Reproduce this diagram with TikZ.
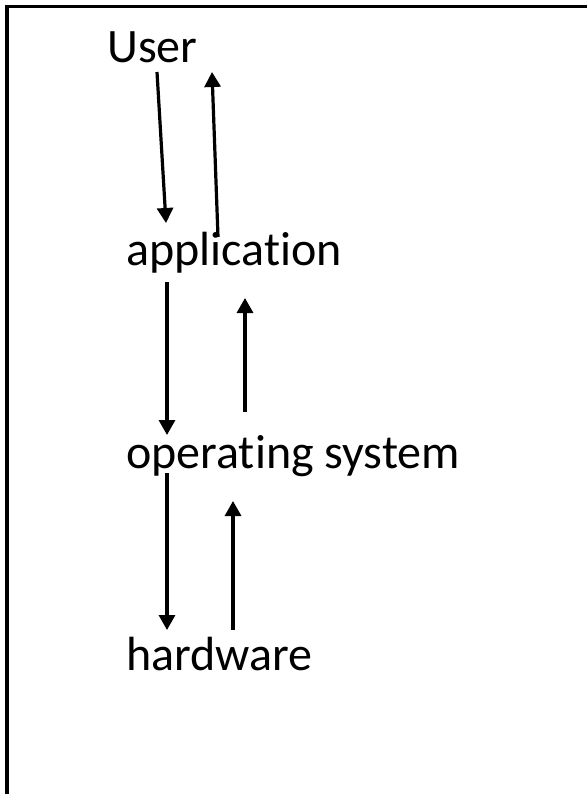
\documentclass[tikz,border=0pt]{standalone}
\usepackage{fontspec}
\setmainfont{Carlito}[Ligatures={NoCommon}]
\usetikzlibrary{arrows.meta}

\begin{document}
\begin{tikzpicture}[
    x=1pt, y=-1pt,
    layer/.style={anchor=base west, inner sep=0pt, font=\fontsize{48}{57}\selectfont},
    arrow/.style={-{Triangle[length=15pt, width=16pt]}, line width=3.2pt}
]

\useasboundingbox (0,0) rectangle (587,794);

% frame (top and left edges only)
\draw[line width=3.2pt] (7,794) -- (7,6.5) -- (587,6.5);

\node[layer] (user) at (107,63) {User};
\node[layer] (app) at (126,265) {application};
\node[layer] (os) at (126,468) {operating system};
\node[layer] (hw) at (126,670) {hardware};

% arrow ends
\coordinate (ua1) at (157,72);   \coordinate (ua2) at (166,223);
\coordinate (au1) at (218,237);  \coordinate (au2) at (212,72);
\coordinate (ao1) at (167,282);  \coordinate (ao2) at (167,435);
\coordinate (oa1) at (245,412);  \coordinate (oa2) at (245,298);
\coordinate (oh1) at (167,473);  \coordinate (oh2) at (167,630);
\coordinate (ho1) at (233,630);  \coordinate (ho2) at (233,501);

\draw[arrow] (ua1) -- (ua2);
\draw[arrow] (au1) -- (au2);
\draw[arrow] (ao1) -- (ao2);
\draw[arrow] (oa1) -- (oa2);
\draw[arrow] (oh1) -- (oh2);
\draw[arrow] (ho1) -- (ho2);

\end{tikzpicture}
\end{document}
